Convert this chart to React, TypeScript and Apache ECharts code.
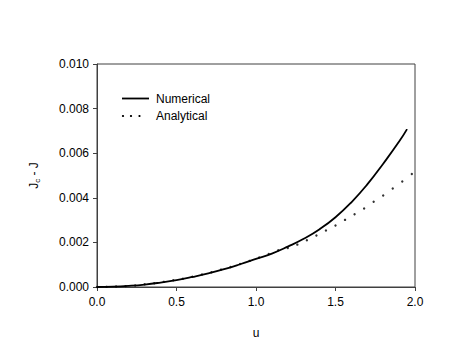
import React, { useEffect, useRef } from "react";
import * as echarts from "echarts";

const numericalU = [0, 0.1, 0.2, 0.3, 0.4, 0.5, 0.6, 0.7, 0.8, 0.9, 1.0, 1.1, 1.2, 1.3, 1.4, 1.5, 1.6, 1.7, 1.8, 1.9, 1.95];
const numericalV = [0, 0.000013, 0.00005, 0.00011, 0.0002, 0.00031, 0.00045, 0.00061, 0.0008, 0.00102, 0.00126, 0.0015, 0.00181, 0.00216, 0.00259, 0.00313, 0.0038, 0.0046, 0.00553, 0.00652, 0.00708];

const analyticalU = [0, 0.06, 0.12, 0.18, 0.24, 0.3, 0.36, 0.42, 0.48, 0.54, 0.6, 0.66, 0.72, 0.78, 0.84, 0.9, 0.96, 1.02, 1.08, 1.14, 1.2, 1.26, 1.32, 1.38, 1.44, 1.5, 1.56, 1.62, 1.68, 1.74, 1.8, 1.86, 1.92, 1.98];
const analyticalV = [0, 0.000005, 0.00002, 0.00004, 0.00007, 0.00012, 0.00017, 0.00023, 0.0003, 0.00037, 0.00046, 0.00056, 0.00066, 0.00078, 0.0009, 0.00103, 0.00117, 0.00132, 0.00148, 0.00165, 0.00175, 0.0019, 0.0021, 0.00231, 0.00253, 0.00276, 0.00301, 0.00326, 0.00352, 0.00382, 0.0041, 0.00442, 0.00473, 0.00507];

const xTicks = ["0.0", "0.5", "1.0", "1.5", "2.0"];
const legendNames = ["Numerical", "Analytical"];

const FONT = "Liberation Sans, Arial, sans-serif";

export default function App() {
  const ref = useRef<HTMLDivElement>(null);
  useEffect(() => {
    if (!ref.current) return;
    const chart = echarts.init(ref.current, undefined, { renderer: "svg" });
    chart.setOption({
      animation: false,
      backgroundColor: "#ffffff",
      textStyle: { fontFamily: FONT },
      grid: {
        left: 97,
        right: 48,
        top: 64,
        bottom: 76,
        show: true,
        borderColor: "#404040",
        borderWidth: 1,
      },
      xAxis: {
        type: "value",
        min: 0,
        max: 2,
        interval: 0.5,
        name: "u",
        nameLocation: "middle",
        nameGap: 40,
        nameTextStyle: { color: "#000", fontSize: 12, fontFamily: FONT },
        axisLine: { show: true, lineStyle: { color: "#404040", width: 1 } },
        axisTick: { show: true, length: 4, lineStyle: { color: "#404040" } },
        splitLine: { show: false },
        axisLabel: {
          color: "#000",
          fontSize: 12,
          fontFamily: FONT,
          margin: 9,
          formatter: (v: number) => xTicks[Math.round(v / 0.5)] ?? v.toFixed(1),
        },
      },
      yAxis: {
        type: "value",
        min: 0,
        max: 0.01,
        interval: 0.002,
        name: "{j|J}{sub|c}{j| - J}",
        nameLocation: "middle",
        nameGap: 56,
        nameRotate: 90,
        nameTextStyle: {
          color: "#000",
          fontFamily: FONT,
          rich: {
            j: { fontSize: 12, fontFamily: FONT, color: "#000" },
            sub: { fontSize: 8, fontFamily: FONT, color: "#000", verticalAlign: "bottom", padding: [6, 0, 0, 0] },
          },
        },
        axisLine: { show: true, lineStyle: { color: "#404040", width: 1 } },
        axisTick: { show: true, length: 4, lineStyle: { color: "#404040" } },
        splitLine: { show: false },
        axisLabel: {
          color: "#000",
          fontSize: 12,
          fontFamily: FONT,
          margin: 8,
          formatter: (v: number) => v.toFixed(3),
        },
      },
      series: [
        {
          name: legendNames[0],
          type: "line",
          data: numericalU.map((u, i) => [u, numericalV[i]]),
          smooth: true,
          showSymbol: false,
          lineStyle: { color: "#000", width: 1.8 },
        },
        {
          name: legendNames[1],
          type: "scatter",
          data: analyticalU.map((u, i) => [u, analyticalV[i]]),
          symbol: "circle",
          symbolSize: 2.4,
          itemStyle: { color: "#000" },
        },
      ],
      graphic: [
        { type: "line", shape: { x1: 122, y1: 98.5, x2: 149, y2: 98.5 }, style: { stroke: "#000", lineWidth: 1.8 } },
        { type: "text", x: 156, y: 98.5, style: { text: legendNames[0], fill: "#000", fontSize: 12, fontFamily: FONT, verticalAlign: "middle" } },
        { type: "circle", shape: { cx: 123, cy: 116, r: 1.1 }, style: { fill: "#000" } },
        { type: "circle", shape: { cx: 131, cy: 116, r: 1.1 }, style: { fill: "#000" } },
        { type: "circle", shape: { cx: 139.5, cy: 116, r: 1.1 }, style: { fill: "#000" } },
        { type: "text", x: 156, y: 115.5, style: { text: legendNames[1], fill: "#000", fontSize: 12, fontFamily: FONT, verticalAlign: "middle" } },
      ],
    });
    return () => chart.dispose();
  }, []);
  return <div ref={ref} style={{ position: "absolute", left: 0, top: 0, width: 463, height: 363 }} />;
}
